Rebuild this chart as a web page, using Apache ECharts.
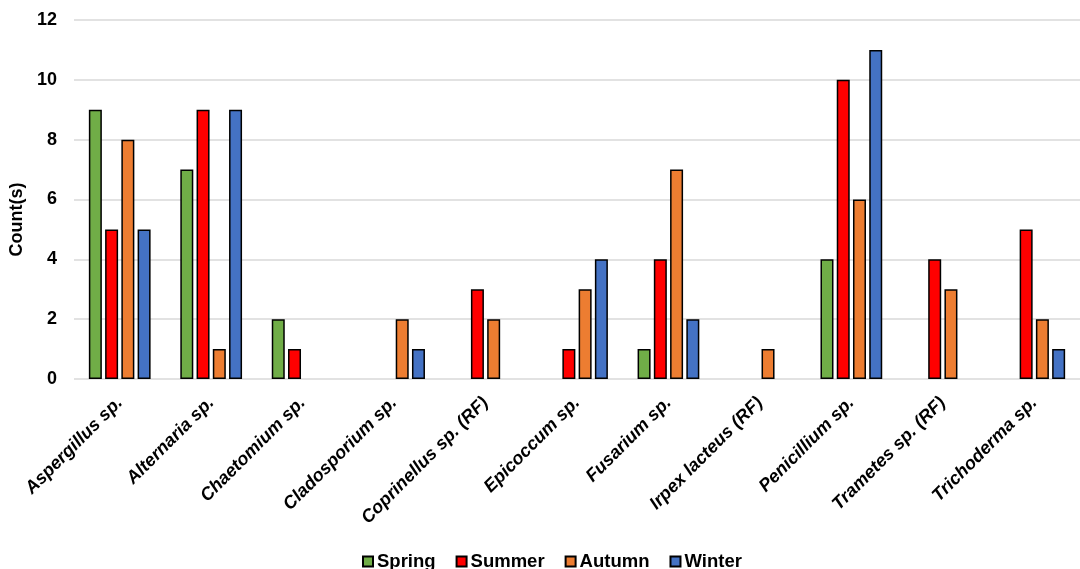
<!DOCTYPE html>
<html>
<head>
<meta charset="utf-8">
<script src="https://cdn.jsdelivr.net/npm/echarts@6/dist/echarts.min.js"></script>
<style>
  html, body { margin: 0; padding: 0; background: #fff; }
  #chart { width: 1080px; height: 569px; }
</style>
</head>
<body>
<div id="chart"></div>
<script>
// Fungal genera counted per season
const categories = [
  'Aspergillus sp.', 'Alternaria sp.', 'Chaetomium sp.', 'Cladosporium sp.',
  'Coprinellus sp. (RF)', 'Epicoccum sp.', 'Fusarium sp.', 'Irpex lacteus (RF)',
  'Penicillium sp.', 'Trametes sp. (RF)', 'Trichoderma sp.'
];
const spring = [9, 7, 2, 0, 0, 0, 1, 0, 4, 0, 0];
const summer = [5, 9, 1, 0, 3, 1, 4, 0, 10, 4, 5];
const autumn = [8, 1, 0, 2, 2, 3, 7, 1, 6, 3, 2];
const winter = [5, 9, 0, 1, 0, 4, 2, 0, 11, 0, 1];
const yTicks = [0, 2, 4, 6, 8, 10, 12];

const seasons = [
  { name: 'Spring', data: spring, color: '#70ad47' },
  { name: 'Summer', data: summer, color: '#ff0000' },
  { name: 'Autumn', data: autumn, color: '#ed7d31' },
  { name: 'Winter', data: winter, color: '#4472c4' }
];

const font = 'Liberation Sans, Arial, sans-serif';
const chart = echarts.init(document.getElementById('chart'));

chart.setOption({
  animation: false,
  grid: { left: 74, right: -11, top: 20, bottom: 190, containLabel: false },
  legend: {
    bottom: -7,
    left: 357,
    itemWidth: 10,
    itemHeight: 10,
    itemGap: 20,
    icon: 'rect',
    textStyle: {
      fontFamily: font, fontWeight: 'bold', fontSize: 18.5, color: '#000',
      padding: [0, 0, 0, -1]
    },
    data: seasons.map(s => s.name)
  },
  xAxis: {
    type: 'category',
    data: categories,
    axisLine: { show: false },
    axisTick: { show: false },
    axisLabel: {
      rotate: 45,
      interval: 0,
      margin: 21,
      fontFamily: font,
      fontWeight: 'bold',
      fontStyle: 'italic',
      fontSize: 18,
      color: '#000'
    }
  },
  yAxis: {
    type: 'value',
    min: yTicks[0],
    max: yTicks[yTicks.length - 1],
    interval: 2,
    name: 'Count(s)',
    nameLocation: 'middle',
    nameGap: 41,
    nameTextStyle: {
      fontFamily: font, fontWeight: 'bold', fontSize: 18, color: '#000',
      padding: [0, 40, 0, 0]
    },
    axisLine: { show: false },
    axisTick: { show: false },
    axisLabel: {
      margin: 17,
      fontFamily: font,
      fontWeight: 'bold',
      fontSize: 18,
      color: '#000'
    },
    splitLine: { lineStyle: { color: '#d9d9d9', width: 1.5 } }
  },
  series: seasons.map(s => ({
    name: s.name,
    type: 'bar',
    barWidth: 13,
    barGap: '25%',
    data: s.data.map(v => (v === 0 ? '-' : v)),
    itemStyle: { color: s.color, borderColor: '#000', borderWidth: 1.5 }
  }))
});
</script>
</body>
</html>
